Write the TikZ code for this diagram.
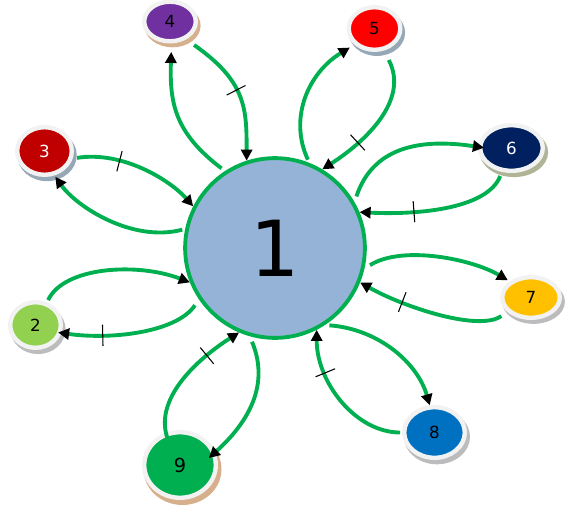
\documentclass[tikz,border=0pt]{standalone}
\usepackage{fontspec}
\setmainfont{DejaVu Sans}
\usetikzlibrary{arrows.meta,shadows,decorations.markings,shapes.geometric}
\definecolor{cgreen}{RGB}{0,176,80}
\definecolor{cblue}{RGB}{149,179,215}
\definecolor{ringc}{RGB}{242,242,242}
\definecolor{c4}{RGB}{112,48,160}
\definecolor{c5}{RGB}{255,0,0}
\definecolor{c3}{RGB}{192,0,0}
\definecolor{c6}{RGB}{0,32,96}
\definecolor{c7}{RGB}{255,192,0}
\definecolor{c2}{RGB}{146,208,80}
\definecolor{c8}{RGB}{0,112,192}
\definecolor{c9}{RGB}{0,176,80}
\definecolor{shtan}{RGB}{214,176,140}
\definecolor{shblue}{RGB}{150,168,182}
\definecolor{sholive}{RGB}{175,180,150}
\definecolor{shgrey}{RGB}{188,188,190}
\begin{document}
\begin{tikzpicture}[x=0.02cm,y=-0.02cm,
  flow/.style={draw=cgreen, line width=2.2pt, -{Triangle[length=6.3pt,width=6.3pt,color=black]}},
  bub/.style={ellipse, inner sep=0pt, draw=ringc, line width=2.5pt,
    font=\fontsize{9.5}{11}\selectfont},
  shad/.style={general shadow={fill=#1, shadow xshift=1.3pt, shadow yshift=-2.2pt, shadow scale=1.09}},
  tickat/.style={postaction={decorate,decoration={markings,mark=at position #1 with {\draw[draw=black,line width=.6pt,-,shorten <=0pt,shorten >=0pt] (0,-6pt) -- (0,6pt);}}}}
]
\useasboundingbox (0,0) rectangle (570,504);

\node[circle, minimum size=3.596cm, inner sep=0pt, fill=cblue, draw=cgreen, line width=2.2pt,
  font=\fontsize{44}{50}\selectfont] (c) at (275,248) {1};

\node[bub, shad=shtan, fill=c4, minimum width=1.032cm, minimum height=0.792cm] (n4) at (170,21.5) {4};
\node[bub, shad=shblue, fill=c5, minimum width=1.032cm, minimum height=0.852cm] (n5) at (374.5,28.5) {5};
\node[bub, shad=shblue, fill=c3, text=white, minimum width=1.092cm, minimum height=0.952cm] (n3) at (44.5,151) {3};
\node[bub, shad=sholive, fill=c6, text=white, minimum width=1.252cm, minimum height=0.912cm] (n6) at (511.5,148) {6};
\node[bub, shad=shgrey, fill=c7, minimum width=1.152cm, minimum height=0.812cm] (n7) at (531,297.5) {7};
\node[bub, shad=shgrey, fill=c2, minimum width=1.012cm, minimum height=0.912cm] (n2) at (35.5,325) {2};
\node[bub, shad=shgrey, fill=c8, minimum width=1.212cm, minimum height=1.012cm] (n8) at (434.5,432.5) {8};
\node[bub, shad=shtan, fill=c9, minimum width=1.432cm, minimum height=1.312cm,
  font=\fontsize{11}{13}\selectfont] (n9) at (180,465) {9};

% 4
\draw[flow,tickat=.5,shorten <=5.5pt] (n4.-48) .. controls +(60,42) and +(0,-52) .. (c.108);
\draw[flow,shorten <=2.5pt,shorten >=4.8pt] (c.123) .. controls +(-50,-38) and +(-2,60) .. (n4.-86);
% 5
\draw[flow,shorten <=2pt,shorten >=3pt] (c.68) .. controls +(-21,-45) and +(-46,28) .. (n5.219);
\draw[flow,tickat=.7,shorten <=6pt] (n5.-67) .. controls +(26,50) and +(42,-27) .. (c.59);
% 3
\draw[flow,tickat=.35,shorten <=2.5pt] (n3.-15) .. controls +(50,-8) and +(-23,-26) .. (c.153);
\draw[flow,shorten <=1.7pt,shorten >=0.9pt] (c.168) .. controls +(-53,14) and +(22,31) .. (n3.-68);
% 6
\draw[flow,shorten <=3.4pt,shorten >=-3.4pt] (c.30) .. controls +(18,-54) and +(-60,-9) .. (n6.178);
\draw[flow,tickat=.65,shorten <=2.5pt] (n6.-112) .. controls +(-14,36) and +(62,3) .. (c.23);
% 7
\draw[flow,shorten <=3.7pt,shorten >=1.1pt] (c.-13) .. controls +(38,-24) and +(-37,-22) .. (n7.143);
\draw[flow,tickat=.7,shorten <=4.1pt] (n7.211) .. controls +(-28,20) and +(44,25) .. (c.-22);
% 2
\draw[flow,shorten <=1.4pt] (n2.63) .. controls +(17,-36) and +(-52,-20) .. (c.202);
\draw[flow,tickat=.72,shorten <=4pt,shorten >=-2pt] (c.214) .. controls +(-22,33) and +(50,7) .. (n2.-17);
% 8
\draw[flow,shorten <=2.5pt] (c.-57) .. controls +(54,4) and +(-12,-42) .. (n8.100);
\draw[flow,tickat=.7,shorten <=1.1pt] (n8.180) .. controls +(-46,0) and +(0,53) .. (c.-63);
% 9
\draw[flow,tickat=.7,shorten <=-3pt] (n9.114) .. controls +(-12,-36) and +(-38,24) .. (c.247);
\draw[flow,shorten <=3.4pt,shorten >=-5pt] (c.254) .. controls +(21,50) and +(31,-28) .. (n9.20);
\end{tikzpicture}
\end{document}
